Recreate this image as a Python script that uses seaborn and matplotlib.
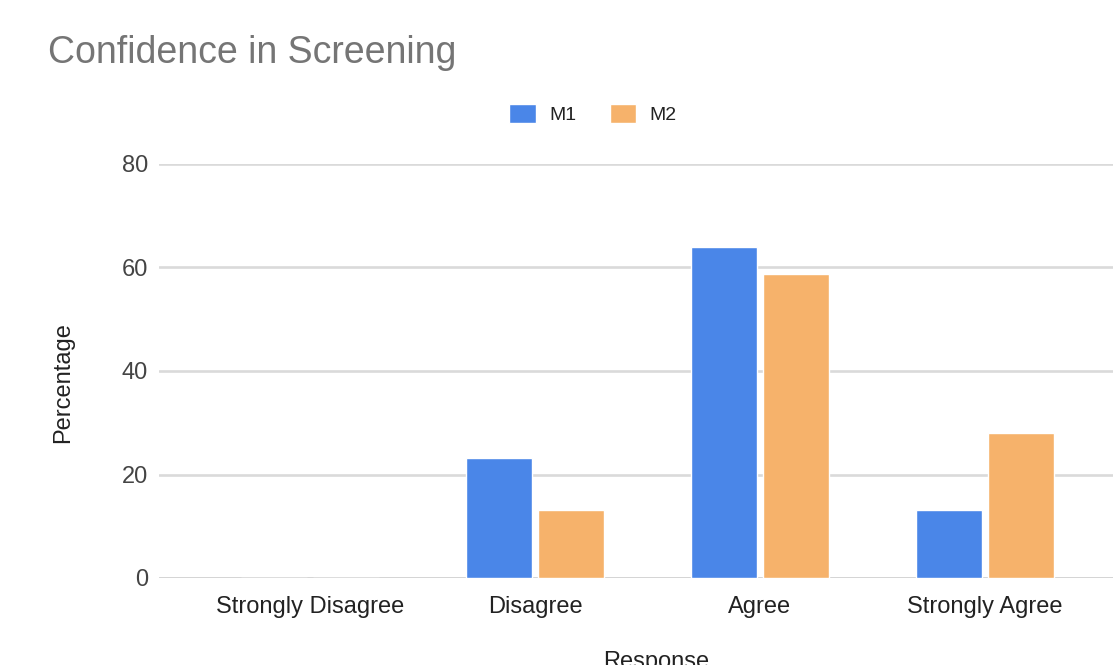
import matplotlib
matplotlib.use("Agg")
import matplotlib.pyplot as plt
import seaborn as sns
import pandas as pd

# Survey responses (percent of respondents)
responses = ["Strongly Disagree", "Disagree", "Agree", "Strongly Agree"]
series_names = ["M1", "M2"]
m1_values = [0, 23.2, 63.9, 13.2]
m2_values = [0, 13.2, 58.8, 28.1]
y_ticks = [0, 20, 40, 60, 80]

colors = {"M1": "#4a86e8", "M2": "#f6b26b"}

df = pd.DataFrame({
    "Response": responses * 2,
    "Series": [series_names[0]] * len(responses) + [series_names[1]] * len(responses),
    "Percentage": m1_values + m2_values,
})

sns.set_theme(style="white")
plt.rcParams["font.family"] = ["Liberation Sans", "DejaVu Sans"]

W, H = 1113, 665
fig = plt.figure(figsize=(W / 100, H / 100), dpi=100)

# plot area in pixel terms: left 159, right 1136 (runs past the canvas), top 164, bottom 578
left_px, right_px, top_px, bot_px = 159, 1136, 164, 578
ax = fig.add_axes([left_px / W, 1 - bot_px / H, (right_px - left_px) / W, (bot_px - top_px) / H])

sns.barplot(data=df, x="Response", y="Percentage", hue="Series", order=responses,
            hue_order=series_names, palette=colors, width=0.64, gap=0.08,
            saturation=1, ax=ax, legend=True, zorder=3)

ax.set_ylim(0, 80)
ax.set_xlim(-0.671, 3.671)
ax.set_yticks(y_ticks)
ax.set_yticklabels([str(t) for t in y_ticks])

for t in y_ticks:
    ax.axhline(t, color="#cccccc" if t == 0 else "#dadada", lw=1.9, zorder=1)

for s in ax.spines.values():
    s.set_visible(False)
ax.tick_params(axis="both", length=0)
ax.tick_params(axis="y", pad=8, labelsize=17, labelcolor="#444444")
ax.tick_params(axis="x", pad=13, labelsize=17, labelcolor="#222222")
ax.set_ylabel("")
ax.set_xlabel("Response", fontsize=17, color="#222222")
ax.xaxis.set_label_coords((656 - left_px) / (right_px - left_px), -(662 - bot_px) / (bot_px - top_px))
ax.xaxis.label.set_va("center")

fig.text(63 / W, 1 - 383 / H, "Percentage", rotation=90, fontsize=17,
         color="#222222", ha="center", va="center")

fig.text(48 / W, 1 - 53 / H, "Confidence in Screening", fontsize=27,
         color="#757575", ha="left", va="center")

handles, labels = ax.get_legend_handles_labels()
ax.get_legend().remove()
fig.legend(handles, labels, loc="center", bbox_to_anchor=(593 / W, 1 - 114 / H),
           ncol=2, frameon=False, fontsize=14, handlelength=1.35, handleheight=1.15,
           handletextpad=0.7, columnspacing=1.7, labelcolor="#222222")

fig.savefig("out.png", dpi=100)
